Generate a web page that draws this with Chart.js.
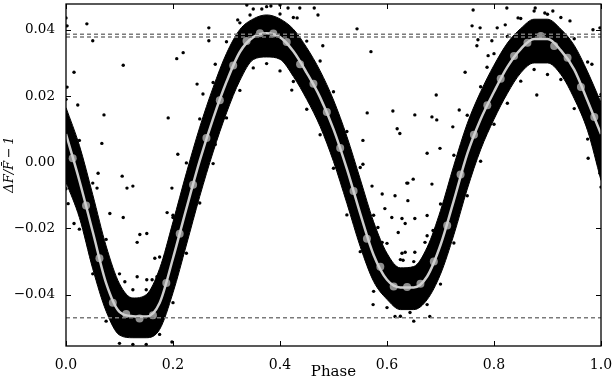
<!DOCTYPE html>
<html>
<head>
<meta charset="utf-8">
<script src="https://cdn.jsdelivr.net/npm/chart.js@4"></script>
<style>
  html, body { margin: 0; padding: 0; background: #fff; }
  canvas { display: block; }
</style>
</head>
<body>
<canvas id="lc" width="612" height="376"></canvas>
<script>
// phase grid for the model curve and the band of measurements
const gridPhase = [0.000, 0.025, 0.050, 0.075, 0.100, 0.125, 0.150, 0.175, 0.200, 0.225,
  0.250, 0.275, 0.300, 0.325, 0.350, 0.375, 0.400, 0.425, 0.450, 0.475,
  0.500, 0.525, 0.550, 0.575, 0.600, 0.625, 0.650, 0.675, 0.700, 0.725,
  0.750, 0.775, 0.800, 0.825, 0.850, 0.875, 0.900, 0.925, 0.950, 0.975, 1.000];

const modelFlux = [0.0085, -0.0055, -0.0210, -0.0365, -0.0452, -0.0465, -0.0466, -0.0425, -0.0290, -0.0140,
  0.0005, 0.0132, 0.0243, 0.0333, 0.0378, 0.0390, 0.0378, 0.0335, 0.0270, 0.0196,
  0.0100, -0.0020, -0.0155, -0.0280, -0.0355, -0.0378, -0.0378, -0.0345, -0.0250, -0.0115,
  0.0025, 0.0130, 0.0213, 0.0288, 0.0342, 0.0372, 0.0372, 0.0338, 0.0280, 0.0185, 0.0085];

// upper and lower edge of the dense cloud of points
const bandTop = [0.0165, 0.0051, -0.0098, -0.0253, -0.0367, -0.0410, -0.0400, -0.0321, -0.0180, -0.0032,
  0.0106, 0.0226, 0.0329, 0.0401, 0.0433, 0.0445, 0.0433, 0.0402, 0.0346, 0.0276,
  0.0188, 0.0078, -0.0051, -0.0180, -0.0275, -0.0319, -0.0315, -0.0257, -0.0146, -0.0009,
  0.0117, 0.0213, 0.0293, 0.0360, 0.0404, 0.0432, 0.0432, 0.0402, 0.0353, 0.0273, 0.0180];

const bandBottom = [-0.0060, -0.0167, -0.0322, -0.0450, -0.0522, -0.0530, -0.0530, -0.0505, -0.0394, -0.0250,
  -0.0103, 0.0031, 0.0149, 0.0247, 0.0310, 0.0318, 0.0311, 0.0259, 0.0190, 0.0108,
  0.0002, -0.0124, -0.0255, -0.0360, -0.0414, -0.0445, -0.0445, -0.0415, -0.0338, -0.0219,
  -0.0081, 0.0038, 0.0130, 0.0208, 0.0270, 0.0300, 0.0300, 0.0265, 0.0192, 0.0095, -0.0055];

// loose points sitting just above / below the band, one per grid phase
const fringeTop = [0.0190, 0.0066, -0.0063, -0.0233, -0.0337, -0.0385, -0.0385, -0.0286, -0.0160, -0.0002,
  0.0131, 0.0241, 0.0364, 0.0421, 0.0463, 0.0470, 0.0448, 0.0437, 0.0366, 0.0306,
  0.0213, 0.0093, -0.0016, -0.0160, -0.0245, -0.0294, -0.0300, -0.0222, -0.0126, 0.0021,
  0.0142, 0.0228, 0.0328, 0.0380, 0.0434, 0.0457, 0.0447, 0.0437, 0.0373, 0.0303, 0.0205];
const fringeBottom = [-0.0080, -0.0202, -0.0337, -0.0480, -0.0547, -0.0550, -0.0550, -0.0520, -0.0424, -0.0275,
  -0.0123, -0.0004, 0.0134, 0.0217, 0.0285, 0.0298, 0.0276, 0.0244, 0.0160, 0.0083,
  -0.0018, -0.0159, -0.0270, -0.0390, -0.0439, -0.0465, -0.0480, -0.0430, -0.0368, -0.0244,
  -0.0101, 0.0003, 0.0115, 0.0178, 0.0245, 0.0280, 0.0265, 0.0250, 0.0162, 0.0070, -0.0075];

// binned averages
const binPhase = [0.0125, 0.0375, 0.0625, 0.0875, 0.1125, 0.1375, 0.1625, 0.1875, 0.2125, 0.2375,
  0.2625, 0.2875, 0.3125, 0.3375, 0.3625, 0.3875, 0.4125, 0.4375, 0.4625, 0.4875,
  0.5125, 0.5375, 0.5625, 0.5875, 0.6125, 0.6375, 0.6625, 0.6875, 0.7125, 0.7375,
  0.7625, 0.7875, 0.8125, 0.8375, 0.8625, 0.8875, 0.9125, 0.9375, 0.9625, 0.9875];
const binFlux = [0.0012, -0.0131, -0.0290, -0.0424, -0.0458, -0.0472, -0.0462, -0.0365, -0.0216, -0.0068,
  0.0073, 0.0187, 0.0292, 0.0366, 0.0390, 0.0389, 0.0363, 0.0296, 0.0237, 0.0152,
  0.0043, -0.0087, -0.0231, -0.0316, -0.0375, -0.0377, -0.0367, -0.0300, -0.0191, -0.0037,
  0.0083, 0.0172, 0.0252, 0.0321, 0.0361, 0.0381, 0.0351, 0.0316, 0.0227, 0.0137];

// scattered points away from the band
const outPhase = [0.000, 0.002, 0.039, 0.050, 0.015, 0.002, 0.022, 0.071, 0.107, 0.067,
  0.060, 0.105, 0.114, 0.058, 0.191, 0.209, 0.207, 0.219, 0.245, 0.256,
  0.267, 0.267, 0.198, 0.338, 0.366, 0.383, 0.400, 0.415, 0.437, 0.464,
  0.432, 0.344, 0.321, 0.544, 0.471, 0.480, 0.570, 0.279, 0.422, 0.563,
  0.611, 0.619, 0.624, 0.555, 0.555, 0.637, 0.279, 0.761, 0.824, 0.845,
  0.877, 0.895, 0.910, 0.942, 0.759, 0.774, 0.806, 0.821, 0.770, 0.768,
  0.796, 0.998, 0.985, 0.983, 0.789, 0.787, 0.746, 0.692, 0.652, 0.684,
  0.693, 0.735, 0.723, 0.699, 0.675, 0.649, 0.639, 0.684, 0.880, 0.976,
  0.998, 0.994, 0.125, 0.107, 0.082, 0.133, 0.151, 0.138, 0.166, 0.110,
  0.133, 0.151, 0.161, 0.170, 0.200, 0.189, 0.015, 0.004, 0.198, 0.572,
  0.591, 0.615, 0.596, 0.609, 0.628, 0.621, 0.583, 0.591, 0.634, 0.630,
  0.574, 0.615, 0.574, 0.639, 0.634, 0.652, 0.675, 0.671, 0.680, 0.686,
  0.699, 0.652, 0.628, 0.643, 0.680];
const outFlux = [0.0436, 0.0412, 0.0418, 0.0367, 0.0272, 0.0227, 0.0173, 0.0143, 0.0293, 0.0057,
  -0.0033, -0.0042, -0.0078, -0.0078, 0.0134, 0.0024, 0.0313, 0.0331, 0.0236, 0.0206,
  0.0406, 0.0367, -0.0078, 0.0475, 0.0463, 0.0472, 0.0475, 0.0466, 0.0466, 0.0466,
  0.0436, 0.0445, 0.0430, 0.0403, 0.0445, 0.0352, 0.0334, 0.0296, 0.0218, 0.0149,
  0.0155, 0.0101, 0.0087, 0.0066, -0.0006, -0.0063, 0.0054, 0.0460, 0.0466, 0.0436,
  0.0466, 0.0451, 0.0457, 0.0427, 0.0412, 0.0406, 0.0406, 0.0415, 0.0370, 0.0352,
  0.0367, 0.0406, 0.0400, 0.0296, 0.0322, 0.0287, 0.0272, 0.0203, 0.0143, 0.0137,
  0.0128, 0.0158, 0.0107, 0.0042, 0.0027, -0.0051, -0.0063, -0.0066, 0.0203, 0.0012,
  -0.0033, 0.0063, -0.0072, -0.0167, -0.0155, -0.0242, -0.0215, -0.0218, -0.0290, -0.0361,
  -0.0346, -0.0355, -0.0355, -0.0346, -0.0167, -0.0152, -0.0185, -0.0125, -0.0543, -0.0072,
  -0.0096, -0.0101, -0.0140, -0.0167, -0.0170, -0.0212, -0.0197, -0.0242, -0.0272, -0.0296,
  -0.0430, -0.0466, -0.0266, -0.0116, -0.0185, -0.0170, -0.0161, -0.0242, -0.0251, -0.0206,
  -0.0176, -0.0272, -0.0275, -0.0454, -0.0466];

// reference levels (dashed)
const levels = [0.0387, 0.0378, -0.0470];

const xTicks = [0.0, 0.2, 0.4, 0.6, 0.8, 1.0];
const yTicks = [-0.04, -0.02, 0.00, 0.02, 0.04];

function pts(xs, ys) {
  return xs.map((x, i) => ({ x: x, y: ys[i] }));
}

const serif = '"DejaVu Serif", "Liberation Serif", serif';

const datasets = [];
levels.forEach(lv => {
  datasets.push({
    data: [{ x: 0, y: lv }, { x: 1, y: lv }],
    showLine: true, borderColor: '#7a7a7a', borderWidth: 1.5, borderDash: [4, 3],
    pointRadius: 0, order: 0
  });
});
datasets.push({
  data: pts(gridPhase, modelFlux), showLine: true, borderColor: '#cfcfcf', borderWidth: 2.5,
  cubicInterpolationMode: 'monotone', pointRadius: 0, order: 1
});
datasets.push({
  data: pts(binPhase, binFlux), backgroundColor: '#8f8f8f', borderWidth: 0,
  pointRadius: 4, order: 2
});
datasets.push({
  data: pts(outPhase, outFlux).concat(pts(gridPhase, fringeTop), pts(gridPhase, fringeBottom)),
  backgroundColor: '#000', borderWidth: 0, pointRadius: 1.7, order: 3
});
const topIdx = datasets.length;
datasets.push({
  data: pts(gridPhase, bandTop), showLine: true, borderColor: '#000', borderWidth: 1,
  backgroundColor: '#000', fill: topIdx + 1, cubicInterpolationMode: 'monotone',
  pointRadius: 0, order: 4
});
datasets.push({
  data: pts(gridPhase, bandBottom), showLine: true, borderColor: '#000', borderWidth: 1,
  cubicInterpolationMode: 'monotone', pointRadius: 0, order: 5
});

// inward ticks and the frame, drawn the way the original plot has them
const frame = {
  id: 'frame',
  afterDraw(chart) {
    const { ctx, chartArea: a, scales } = chart;
    ctx.save();
    ctx.strokeStyle = '#000';
    ctx.lineWidth = 1;
    xTicks.forEach(v => {
      const x = Math.round(scales.x.getPixelForValue(v)) + 0.5;
      ctx.beginPath();
      ctx.moveTo(x, a.bottom); ctx.lineTo(x, a.bottom - 5);
      ctx.moveTo(x, a.top); ctx.lineTo(x, a.top + 5);
      ctx.stroke();
    });
    yTicks.forEach(v => {
      const y = Math.round(scales.y.getPixelForValue(v)) + 0.5;
      ctx.beginPath();
      ctx.moveTo(a.left, y); ctx.lineTo(a.left + 5, y);
      ctx.moveTo(a.right, y); ctx.lineTo(a.right - 5, y);
      ctx.stroke();
    });
    ctx.lineWidth = 1.3;
    ctx.strokeRect(a.left, a.top, a.right - a.left, a.bottom - a.top);
    ctx.restore();
  }
};

function noEdgePad(s) {
  s.paddingLeft = 0; s.paddingRight = 0; s.paddingTop = 0; s.paddingBottom = 0;
}

new Chart(document.getElementById('lc'), {
  type: 'scatter',
  data: { datasets: datasets },
  options: {
    responsive: false,
    animation: false,
    devicePixelRatio: 1,
    layout: { padding: { top: 1, right: 11, left: 0, bottom: 0 } },
    plugins: { legend: { display: false }, tooltip: { enabled: false } },
    scales: {
      x: {
        type: 'linear', min: 0, max: 1,
        grid: { display: false }, border: { display: false },
        afterBuildTicks: s => { s.ticks = xTicks.map(v => ({ value: v })); },
        afterFit: s => { s.height = 30; noEdgePad(s); },
        ticks: {
          color: '#000', padding: 3, maxRotation: 0,
          font: { family: serif, size: 14 },
          callback: v => v.toFixed(1)
        },
        title: {
          display: true, text: 'Phase', color: '#000',
          font: { family: serif, size: 15 }, padding: { top: 0, bottom: -5 }
        }
      },
      y: {
        type: 'linear', min: -0.0555, max: 0.0478,
        grid: { display: false }, border: { display: false },
        afterBuildTicks: s => { s.ticks = yTicks.map(v => ({ value: v })); },
        afterFit: s => { s.width = 66; noEdgePad(s); },
        ticks: {
          color: '#000', padding: 3,
          font: { family: serif, size: 13.5 },
          callback: v => Math.abs(v) < 1e-9 ? '0.00' : (v < 0 ? '\u2212' : '') + Math.abs(v).toFixed(2)
        },
        title: {
          display: true, text: '     \u0394F/F\u0304\u2009\u2212\u20091', color: '#000',
          font: { family: serif, size: 13, style: 'italic' }, padding: { top: 2, bottom: 0 }
        }
      }
    }
  },
  plugins: [frame]
});
</script>
</body>
</html>
